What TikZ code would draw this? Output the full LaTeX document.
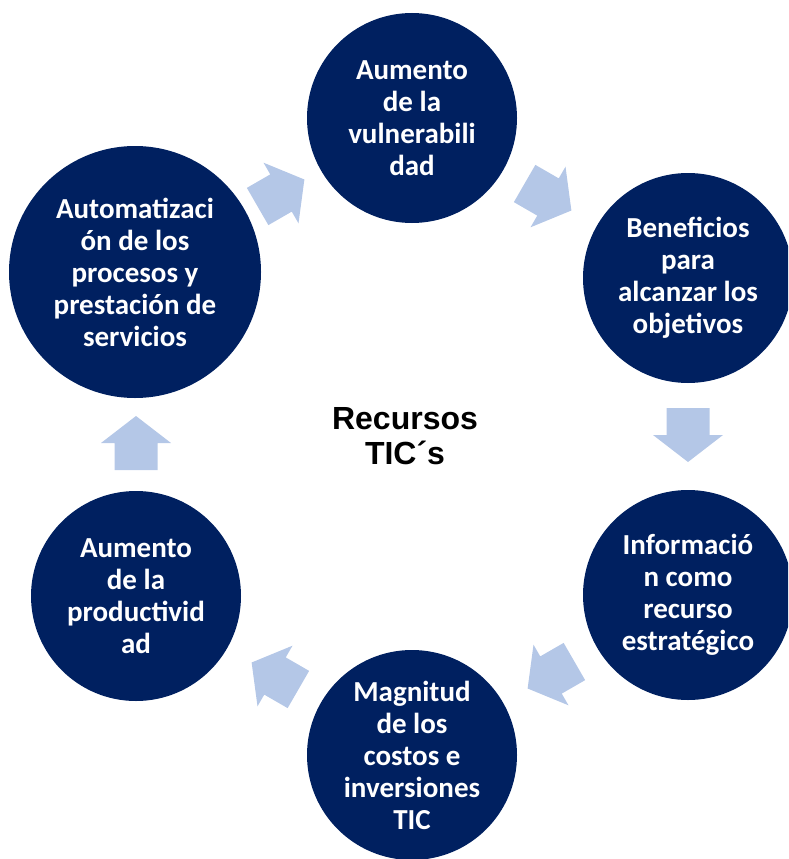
\documentclass[tikz,border=0pt]{standalone}
\usepackage{fontspec}
\setmainfont{Carlito}
\newfontfamily\arialfont{Liberation Sans}
\definecolor{navy}{RGB}{0,32,96}
\definecolor{arrowblue}{RGB}{180,199,231}
\begin{document}
\begin{tikzpicture}[x=1pt,y=-1pt,
  bubble/.style={circle, fill=navy, text=white, inner sep=0pt, minimum size=210pt, align=center,
    font=\bfseries\fontsize{29}{32}\selectfont},
  centertext/.style={align=center, text=black, font=\arialfont\bfseries\fontsize{32}{35}\selectfont},
  blockarrow/.style={fill=arrowblue}]
\useasboundingbox (0,0) rectangle (788,859);
\clip (0,0) rectangle (788,859);
\node[bubble] (n1) at (412,118) {Aumento\\de la\\vulnerabili\\dad};
\node[bubble] (n2) at (688,278) {Beneficios\\para\\alcanzar los\\objetivos};
\node[bubble] (n3) at (688,595) {Informació\\n como\\recurso\\estratégico};
\node[bubble] (n4) at (412,755) {Magnitud\\de los\\costos e\\inversiones\\TIC};
\node[bubble] (n5) at (136,596) {Aumento\\de la\\productivid\\ad};
\node[bubble, minimum size=252pt] (n6) at (135,272) {Automatizaci\\ón de los\\procesos y\\prestación de\\servicios};
\node[centertext] (c) at (405,436) {Recursos\\TIC´s};
\foreach \nm/\px/\py/\ang in {a1/281/193/30, a2/548/197/-30, a3/688/435/-90, a4/551/675/-150, a5/275/676/150, a6/136/443/90} {
  \coordinate (\nm) at (\px,\py);
  \fill[blockarrow, shift={(\nm)}, rotate=\ang] (-27,-21.5) -- (0,-21.5) -- (0,-35) -- (27,0) -- (0,35) -- (0,21.5) -- (-27,21.5) -- cycle;
}
\end{tikzpicture}
\end{document}
